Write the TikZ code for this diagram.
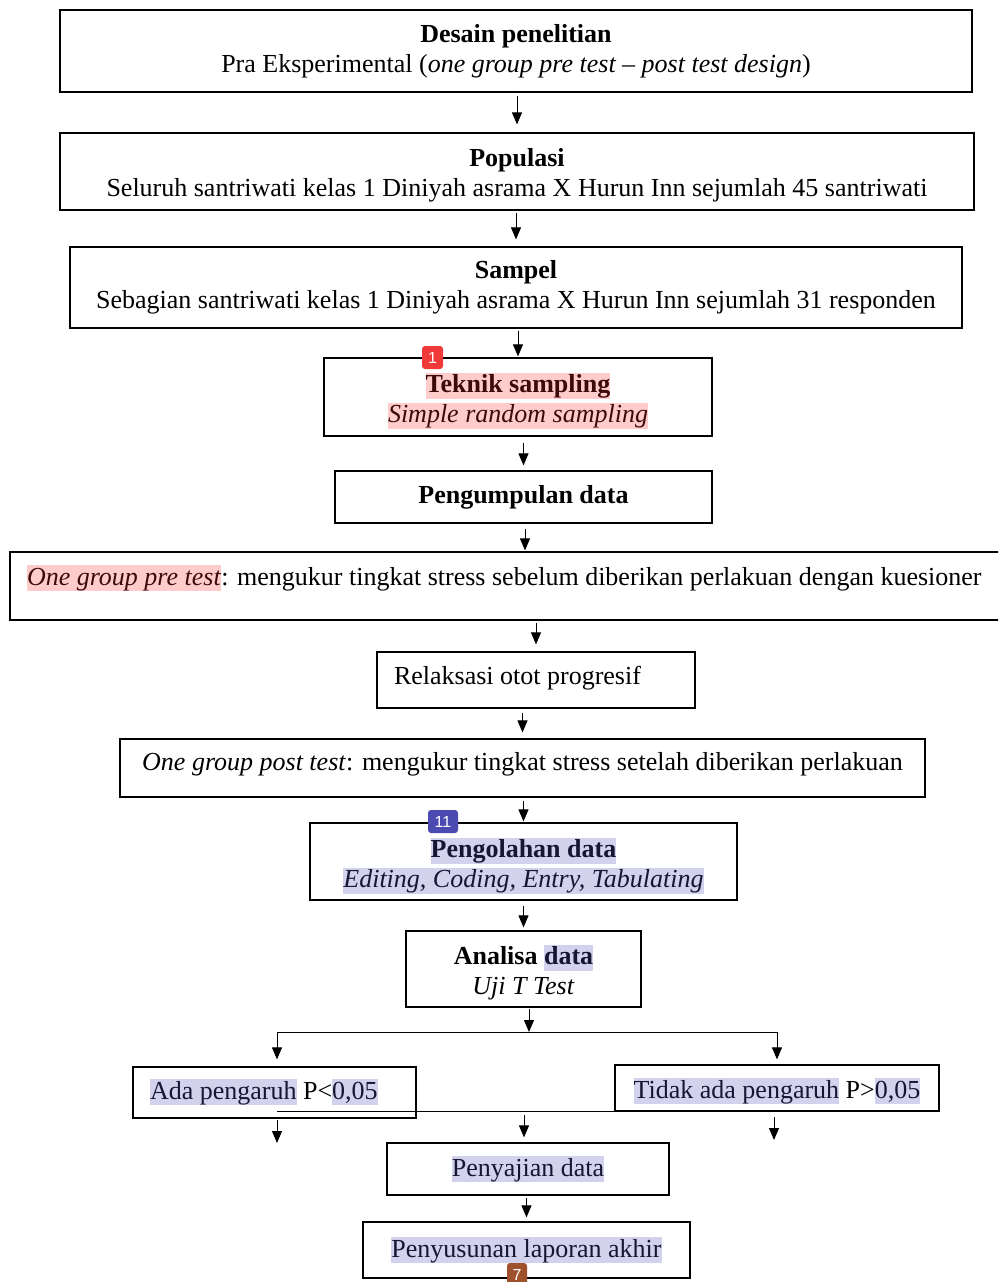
\documentclass[tikz,border=0pt]{standalone}
\usepackage{fontspec}
\setmainfont{Liberation Serif}
\setsansfont{Liberation Sans}
\usetikzlibrary{arrows.meta}

\definecolor{hlpink}{RGB}{255,204,204}
\definecolor{hllav}{RGB}{210,210,236}
\definecolor{inkred}{RGB}{60,10,10}
\definecolor{inklav}{RGB}{22,22,52}
\definecolor{badgered}{RGB}{240,58,58}
\definecolor{badgeblue}{RGB}{74,74,176}
\definecolor{badgebrown}{RGB}{160,82,45}

\newcommand{\markpink}[1]{{\setlength{\fboxsep}{0pt}\colorbox{hlpink}{\rule[-3pt]{0pt}{13pt}\color{inkred}#1}}}
\newcommand{\marklav}[1]{{\setlength{\fboxsep}{0pt}\colorbox{hllav}{\rule[-3pt]{0pt}{13pt}\color{inklav}#1}}}

\begin{document}
\begin{tikzpicture}[x=0.5pt,y=-0.5pt,
	box/.style={draw, line width=0.6pt, inner sep=0pt, align=center, font=\fontsize{13}{15}\selectfont},
	arr/.style={-{Triangle[length=6pt,width=5pt]}, line width=0.5pt},
	badge/.style={rounded corners=1.5pt, inner sep=0pt, minimum height=11.5pt, text=white, font=\sffamily\fontsize{8}{9}\selectfont}]

	\useasboundingbox (0,0) rectangle (998,1282);
	\clip (0,0) rectangle (998,1282);
	\fill[white] (0,0) rectangle (998,1282);

	% Boxes %
	\node[box, minimum width=456pt, minimum height=41pt] (desain) at (516,51) {\textbf{Desain penelitian}\\Pra Eksperimental (\textit{one group pre test -- post test design})};
	\node[box, minimum width=457pt, text height=31.75pt, text depth=6.75pt] (populasi) at (517,171.5) {\textbf{Populasi}\\Seluruh santriwati kelas 1 Diniyah asrama X Hurun Inn sejumlah 45 santriwati};
	\node[box, minimum width=446pt, minimum height=40.5pt] (sampel) at (516,287.5) {\textbf{Sampel}\\Sebagian santriwati kelas 1 Diniyah asrama X Hurun Inn sejumlah 31 responden};
	\node[box, minimum width=194pt, text height=32.25pt, text depth=6.75pt] (teknik) at (518,397) {\markpink{\textbf{Teknik sampling}}\\\markpink{\textit{Simple random sampling}}};
	\node[box, minimum width=188.5pt, minimum height=26pt] (kumpul) at (523.5,497) {\textbf{Pengumpulan data}};
	\node[box, inner xsep=8.5pt, align=flush left, text width=498pt, text height=16.5pt, text depth=17.5pt] (pretest) at (525,586) {\markpink{\textit{One group pre test}}: mengukur tingkat stress sebelum diberikan perlakuan dengan kuesioner};
	\node[box, inner xsep=8.5pt, align=flush left, text width=142pt, text height=16pt, text depth=12pt] (relaksasi) at (536,680) {Relaksasi otot progresif};
	\node[box, minimum width=402.5pt, text height=15.5pt, text depth=13.5pt] (posttest) at (522.5,768) {\textit{One group post test}: mengukur tingkat stress setelah diberikan perlakuan};
	\node[box, minimum width=213.5pt, text height=32.25pt, text depth=6.25pt] (olah) at (523.5,861.5) {\marklav{\textbf{Pengolahan data}}\\\marklav{\textit{Editing, Coding, Entry, Tabulating}}};
	\node[box, minimum width=117.5pt, text height=31.75pt, text depth=6.25pt] (analisa) at (523.5,969) {\textbf{Analisa \marklav{data}}\\\textit{Uji T Test}};
	\node[box, inner xsep=8.5pt, align=flush left, text width=124.5pt, text height=16pt, text depth=9.5pt] (ada) at (274.5,1092.5) {\marklav{Ada pengaruh} P<\marklav{0,05}};
	\node[box, minimum width=162pt, text height=16.5pt, text depth=6.5pt] (tidak) at (777,1088) {\marklav{Tidak ada pengaruh} P>\marklav{0,05}};
	\node[box, minimum width=141pt, minimum height=26pt] (saji) at (528,1169) {\marklav{Penyajian data}};
	\node[box, minimum width=163.5pt, minimum height=28pt] (laporan) at (526.5,1250) {\marklav{Penyusunan laporan akhir}};

	% Flow %
	\foreach \a/\b/\s/\e in {desain/populasi/1.5pt/4pt, populasi/sampel/1pt/3.5pt, sampel/teknik/1pt/0.5pt, teknik/kumpul/3pt/2.5pt, kumpul/pretest/2.5pt/0.5pt, pretest/relaksasi/1pt/3.5pt, relaksasi/posttest/2pt/3pt, posttest/olah/1.5pt/0.5pt, olah/analisa/2.5pt/1.5pt, saji/laporan/1pt/2pt}
		\draw[arr, shorten <=\s, shorten >=\e] (\a.south -| \b.north) -- (\b.north);

	% Split and join %
	\coordinate (split) at (529,1032);
	\coordinate (join) at (524,1111);
	\coordinate (endL) at (277,1143);
	\coordinate (endR) at (774,1140);
	\draw[arr, shorten <=0.5pt] (analisa.south -| split) -- (split);
	\draw[line width=0.5pt] (split -| endL) -- (split -| tidak.north);
	\draw[arr, shorten >=3.5pt] (split -| endL) -- (ada.north -| endL);
	\draw[arr, shorten >=2.5pt] (split -| tidak.north) -- (tidak.north);
	\draw[line width=0.5pt] (join -| endL) -- (join -| tidak.north);
	\draw[arr, shorten <=4.5pt] (join -| endL) -- (endL);
	\draw[arr, shorten <=2pt, shorten >=2.5pt] (join) -- (join |- saji.north);
	\draw[arr, shorten <=3pt] (join -| endR) -- (endR);

	% Markers %
	\node[badge, fill=badgered, minimum width=10.5pt] (markA) at (432.5,357.5) {1};
	\node[badge, fill=badgeblue, minimum width=15pt] (markB) at (443,821.5) {11};
	\node[badge, fill=badgebrown, minimum width=10pt, minimum height=12pt] (markC) at (517,1275) {7};
\end{tikzpicture}
\end{document}
